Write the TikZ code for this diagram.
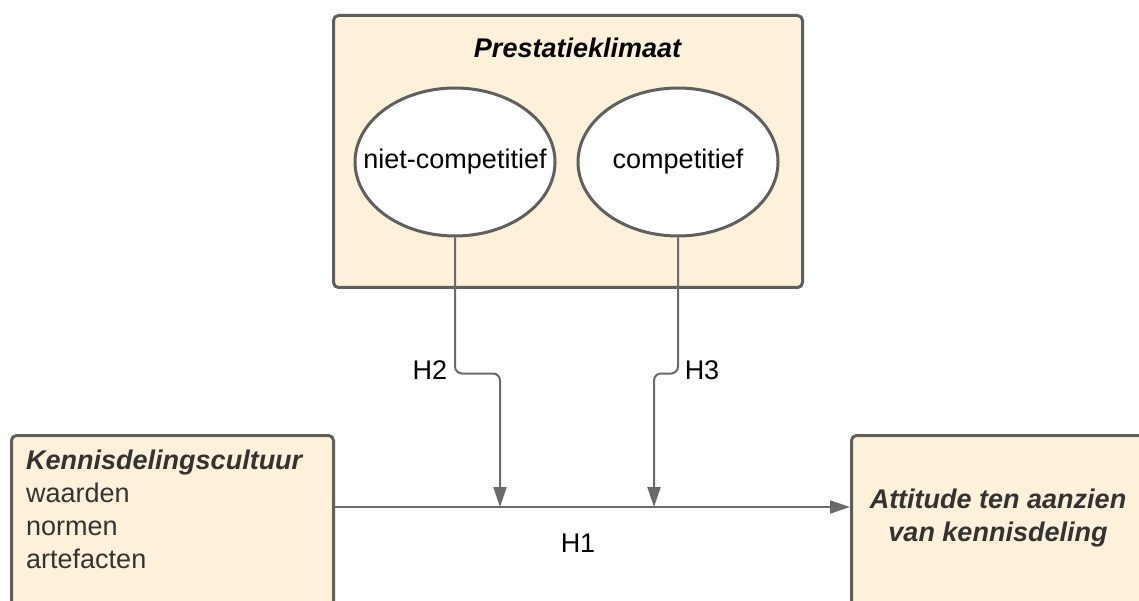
\documentclass[tikz,border=0pt]{standalone}
\usepackage{fontspec}
\setmainfont{Liberation Sans}
\usetikzlibrary{arrows.meta,calc,shapes.geometric}
\definecolor{cream}{HTML}{FEF1D9}
\definecolor{bord}{HTML}{5F5F5F}
\definecolor{lin}{HTML}{6A6A6A}
\definecolor{txt}{HTML}{333333}
\tikzset{
  box/.style={draw=bord, line width=3pt, fill=cream, rounded corners=5pt, inner sep=0pt},
  ell/.style={ellipse, draw=bord, line width=3pt, fill=white, inner sep=0pt, minimum width=200pt, minimum height=148pt},
  conn/.style={draw=lin, line width=2pt, rounded corners=7pt, -{Triangle[width=13pt,length=20pt]}},
  lbl/.style={font=\fontsize{27}{33}\selectfont, text=black, inner sep=0pt},
  btxt/.style={font=\fontsize{27}{33}\selectfont, text=txt, inner sep=0pt}
}
\begin{document}
\begin{tikzpicture}[x=1pt,y=-1pt]
\useasboundingbox (0,0) rectangle (1139,601);
\clip (0,0) rectangle (1139,601);
\fill[white] (0,0) rectangle (1139,601);
% boxes
\node[box, anchor=north west, minimum width=469pt, minimum height=272pt] (clim) at (332,14) {};
\node[box, anchor=north west, minimum width=322pt, minimum height=220pt] (cult) at (10,434) {};
\node[box, anchor=north west, minimum width=330pt, minimum height=220pt] (att) at (850,434) {};
% texts
\node[lbl] (climt) at (578,48) {\textbf{\textit{Prestatieklimaat}}};
\node[ell, lbl] (nc) at (455,162) {\makebox[0pt]{niet-competitief}};
\node[ell, lbl] (co) at (678,162) {\makebox[0pt]{competitief}};
\node[btxt, anchor=north west, align=left] (cultt) at (26,450) {\textbf{\textit{Kennisdelingscultuur}}\\waarden\\normen\\artefacten};
\node[btxt, anchor=center, align=center] (attt) at (998,518) {\textbf{\textit{Attitude ten aanzien}}\\\textbf{\textit{van kennisdeling}}};
% junction coordinates
\coordinate (j1) at (500,507);
\coordinate (j2) at (654,507);
\coordinate (my) at (0,507);
% connectors
\draw[conn] (cult.east |- my) -- (att.west |- my);
\draw[conn] (nc.south) -- ++(0,136) -| (j1);
\draw[conn] (co.south) -- ++(0,136) -| (j2);
% labels
\node[lbl] (h1) at (578,543) {H1};
\node[lbl] (h2) at (430,370) {H2};
\node[lbl] (h3) at (702,370) {H3};
\end{tikzpicture}
\end{document}
